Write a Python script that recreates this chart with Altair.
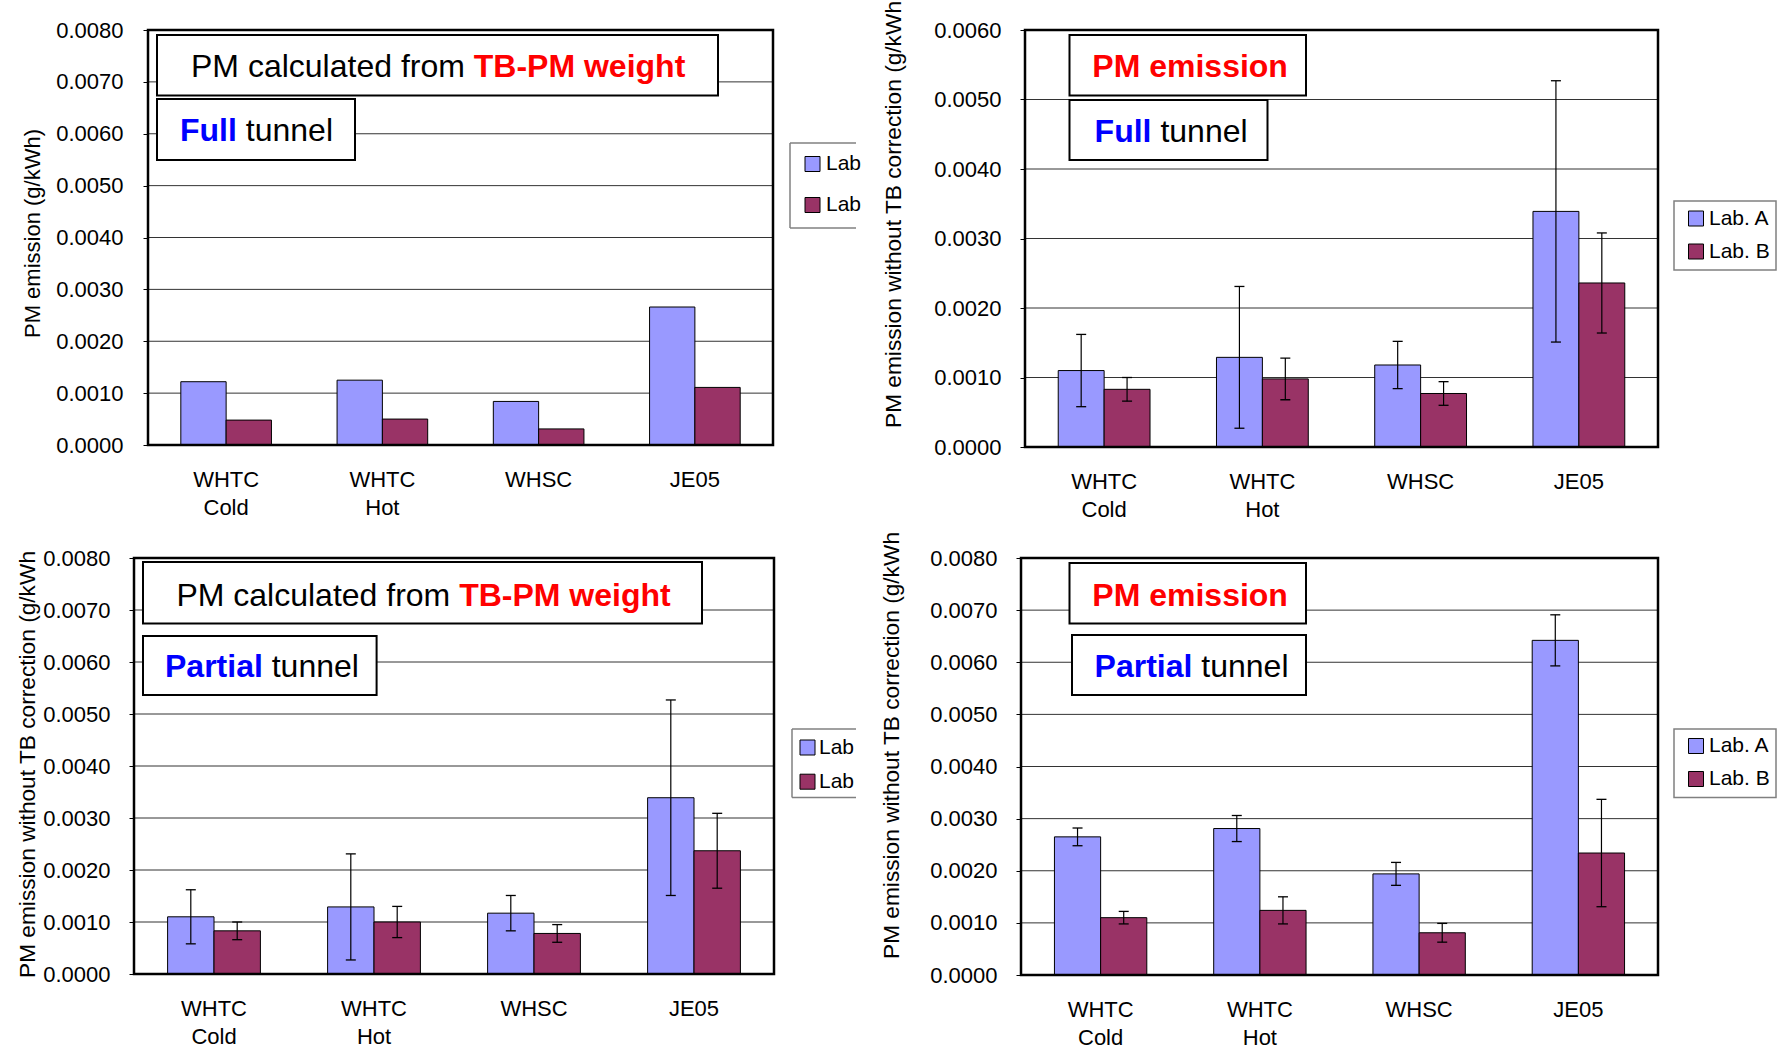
import altair as alt
import pandas as pd

FONT = "Liberation Sans"
RED = "#FF0000"
BLUE = "#0000FF"
ZWSP = "\u200b"

CYCLES = ["WHTC Cold", "WHTC Hot", "WHSC", "JE05"]
LABS = ["Lab. A", "Lab. B"]
LAB_COLORS = ["#9999FF", "#993366"]

TICKS_8 = [0.0, 0.001, 0.002, 0.003, 0.004, 0.005, 0.006, 0.007, 0.008]
TICKS_6 = [0.0, 0.001, 0.002, 0.003, 0.004, 0.005, 0.006]

# PM calculated from TB-PM weight, full tunnel
tb_full_a = [0.00122, 0.00125, 0.00084, 0.00266]
tb_full_b = [0.00048, 0.00050, 0.00031, 0.00111]

# PM emission without TB correction, full tunnel
pm_full_a = [0.00110, 0.00129, 0.00118, 0.00339]
pm_full_a_sd = [0.00052, 0.00102, 0.00034, 0.00188]
pm_full_b = [0.00083, 0.00098, 0.00077, 0.00236]
pm_full_b_sd = [0.00017, 0.00030, 0.00017, 0.00072]

# PM calculated from TB-PM weight, partial tunnel
tb_part_a = [0.00110, 0.00129, 0.00117, 0.00339]
tb_part_a_sd = [0.00052, 0.00102, 0.00034, 0.00188]
tb_part_b = [0.00083, 0.00100, 0.00078, 0.00237]
tb_part_b_sd = [0.00017, 0.00030, 0.00017, 0.00072]

# PM emission without TB correction, partial tunnel
pm_part_a = [0.00265, 0.00281, 0.00194, 0.00642]
pm_part_a_sd = [0.00017, 0.00025, 0.00022, 0.00049]
pm_part_b = [0.00110, 0.00124, 0.00081, 0.00234]
pm_part_b_sd = [0.00012, 0.00026, 0.00018, 0.00103]

TITLE_SHORT = "PM emission (g/kWh)"
TITLE_LONG = "PM emission without TB correction (g/kWh)"


def table(a, b, a_sd=None, b_sd=None):
    rows = []
    for i, cycle in enumerate(CYCLES):
        rows.append({"cycle": cycle, "lab": LABS[0], "value": a[i],
                     "sd": a_sd[i] if a_sd else 0.0})
        rows.append({"cycle": cycle, "lab": LABS[1], "value": b[i],
                     "sd": b_sd[i] if b_sd else 0.0})
    return pd.DataFrame(rows)


ONE = pd.DataFrame({"k": [0]})


def rect(x1, x2, y1, y2, **style):
    return alt.Chart(ONE).mark_rect(**style).encode(
        x=alt.value(x1), x2=alt.value(x2), y=alt.value(y1), y2=alt.value(y2))


def hline(x1, x2, y, **style):
    return alt.Chart(ONE).mark_rule(**style).encode(
        x=alt.value(x1), x2=alt.value(x2), y=alt.value(y))


def vline(x, y1, y2, **style):
    return alt.Chart(ONE).mark_rule(**style).encode(
        x=alt.value(x), y=alt.value(y1), y2=alt.value(y2))


def label(s, x, y, size=32, **style):
    props = dict(font=FONT, fontSize=size, align="left", baseline="middle", color="black")
    props.update(style)
    return alt.Chart(pd.DataFrame({"s": [s]})).mark_text(**props).encode(
        x=alt.value(x), y=alt.value(y), text="s:N")


def ytitle(s, x, y, size, limit=0):
    return alt.Chart(pd.DataFrame({"s": [s]})).mark_text(
        font=FONT, fontSize=size, angle=270, align="left", baseline="alphabetic",
        color="black", limit=limit, ellipsis=ZWSP,
    ).encode(x=alt.value(x), y=alt.value(y), text="s:N")


def text_box(x1, x2, y1, y2):
    return rect(x1, x2, y1, y2, fill="white", stroke="black", strokeWidth=2)


def swatch(x1, yc, color):
    return rect(x1, x1 + 15, yc - 7.5, yc + 7.5, fill=color, stroke="black", strokeWidth=1)


def legend(box, sx, ys, tx, clipped_at=None, limit=0):
    bx1, bx2, by1, by2 = box
    layers = []
    if clipped_at is None:
        layers.append(rect(bx1, bx2, by1, by2, fill="white", stroke="#808080", strokeWidth=1.5))
    else:
        edge = dict(color="#808080", strokeWidth=1.5)
        layers += [hline(bx1, clipped_at, by1, **edge),
                   vline(bx1, by1, by2, **edge),
                   hline(bx1, clipped_at, by2, **edge)]
    for lab, color, yc in zip(LABS, LAB_COLORS, ys):
        layers.append(swatch(sx, yc, color))
        layers.append(label(lab, tx, yc, size=21, limit=limit, ellipsis=ZWSP))
    return layers


def panel(df, ymax, ticks, width, height, x0, anchor, extras, with_sd, ylab_pad):
    xs = alt.Scale(range=[x0, width], paddingInner=0.42, paddingOuter=0.21)
    ys = alt.Scale(domain=[0, ymax], nice=False)
    x_axis = alt.Axis(labelExpr="split(datum.label, ' ')", labelAngle=0, labelPadding=24,
                      labelLineHeight=28, ticks=False, tickSize=0, domain=False)
    y_axis = alt.Axis(values=ticks, format=".4f", tickSize=5, tickColor="black", tickWidth=1,
                      labelPadding=ylab_pad, grid=False, domain=False, offset=-x0)

    def X():
        return alt.X("cycle:N", sort=CYCLES, scale=xs, axis=x_axis, title=None)

    def Y(field):
        return alt.Y(field, scale=ys, axis=y_axis, title=None)

    off = alt.XOffset("lab:N", sort=LABS)

    layers = [rect(*anchor, opacity=0)]
    # horizontal gridlines
    layers.append(
        alt.Chart(pd.DataFrame({"tick": ticks[1:-1]})).mark_rule(color="#333333", strokeWidth=1)
        .encode(y=Y("tick:Q"), x=alt.value(x0), x2=alt.value(width))
    )
    layers.append(
        alt.Chart(df).mark_bar(stroke="black", strokeWidth=1, opacity=1).encode(
            x=X(),
            xOffset=off,
            y=alt.Y("value:Q", scale=ys, axis=y_axis, title=None, stack=None),
            color=alt.Color("lab:N", scale=alt.Scale(domain=LABS, range=LAB_COLORS), legend=None),
        )
    )
    if with_sd:
        base = alt.Chart(df).transform_calculate(
            lo="datum.value - datum.sd", hi="datum.value + datum.sd")
        layers.append(base.mark_rule(color="black", strokeWidth=1.2).encode(
            x=X(), xOffset=off, y=Y("lo:Q"), y2="hi:Q"))
        for end in ("lo", "hi"):
            layers.append(base.mark_tick(color="black", thickness=1.3, size=10, opacity=1).encode(
                x=X(), xOffset=off, y=Y(f"{end}:Q")))
    layers += extras
    # plot frame
    layers.append(rect(x0, width, 0, height, fillOpacity=0, stroke="black", strokeWidth=2.5))
    return alt.layer(*layers).properties(width=width, height=height)


# ---- top left: TB-PM weight, full tunnel ----
tl_extras = [
    text_box(23, 584, 5, 65.6),
    label("PM calculated from", 57, 37),
    label("TB-PM weight", 339.75, 37, color=RED, fontWeight="bold"),
    text_box(23, 221, 69, 130),
    label("Full", 46, 101, color=BLUE, fontWeight="bold"),
    label("tunnel", 111.8, 101),
    ytitle(TITLE_SHORT, -94, 308, 22),
] + legend((656, 760, 113, 198), 671, (134, 175), 692, clipped_at=722, limit=37)
top_left = panel(table(tb_full_a, tb_full_b), 0.008, TICKS_8, 639, 415, 14,
                 (-134, 734, -30, 497), tl_extras, False, 20)

# ---- top right: PM emission, full tunnel ----
tr_extras = [
    text_box(44.5, 281, 5, 65.6),
    label("PM emission", 67.3, 37, color=RED, fontWeight="bold"),
    text_box(44.5, 242.5, 70, 130),
    label("Full", 69.6, 102, color=BLUE, fontWeight="bold"),
    label("tunnel", 135.4, 102),
    ytitle(TITLE_LONG, -124, 398, 22.7, 429),
] + legend((649, 751, 171, 240), 663.5, (188.5, 221.5), 684)
top_right = panel(table(pm_full_a, pm_full_b, pm_full_a_sd, pm_full_b_sd), 0.006, TICKS_6,
                  633, 417, 0, (-157, 759, -30, 497), tr_extras, True, 19)

# ---- bottom left: TB-PM weight, partial tunnel ----
bl_extras = [
    text_box(9, 568, 4, 65.5),
    label("PM calculated from", 42.4, 38.2),
    label("TB-PM weight", 325.15, 38.2, color=RED, fontWeight="bold"),
    text_box(9, 242.6, 78, 137),
    label("Partial", 31, 108.8, color=BLUE, fontWeight="bold"),
    label("tunnel", 137.7, 108.8),
    ytitle(TITLE_LONG, -99, 420, 22.7, 431),
] + legend((658, 760, 171, 239.6), 666, (189.5, 223.7), 685, clipped_at=722, limit=38)
bottom_left = panel(table(tb_part_a, tb_part_b, tb_part_a_sd, tb_part_b_sd), 0.008, TICKS_8,
                    640, 416, 0, (-134, 734, -31, 491), bl_extras, True, 19)

# ---- bottom right: PM emission, partial tunnel ----
br_extras = [
    text_box(48.5, 285, 5, 65.5),
    label("PM emission", 71.3, 38, color=RED, fontWeight="bold"),
    text_box(51, 285, 77, 137),
    label("Partial", 73.6, 108.8, color=BLUE, fontWeight="bold"),
    label("tunnel", 180.3, 108.8),
    ytitle(TITLE_LONG, -122, 401, 22.7, 432),
] + legend((653, 755, 171, 239.6), 667.5, (188, 221), 688)
bottom_right = panel(table(pm_part_a, pm_part_b, pm_part_a_sd, pm_part_b_sd), 0.008, TICKS_8,
                     637, 417, 0, (-153, 763, -31, 491), br_extras, True, 19)

row1 = alt.hconcat(top_left, top_right, spacing=0).resolve_scale(xOffset="independent")
row2 = alt.hconcat(bottom_left, bottom_right, spacing=0).resolve_scale(xOffset="independent")

chart = (
    alt.vconcat(row1, row2, spacing=0)
    .resolve_scale(xOffset="independent")
    .properties(padding=0)
    .configure(font=FONT)
    .configure_view(strokeWidth=0)
    .configure_axis(labelFont=FONT, labelFontSize=22, labelColor="black")
)

chart.save("out.html", embed_options={"renderer": "svg", "actions": False})
